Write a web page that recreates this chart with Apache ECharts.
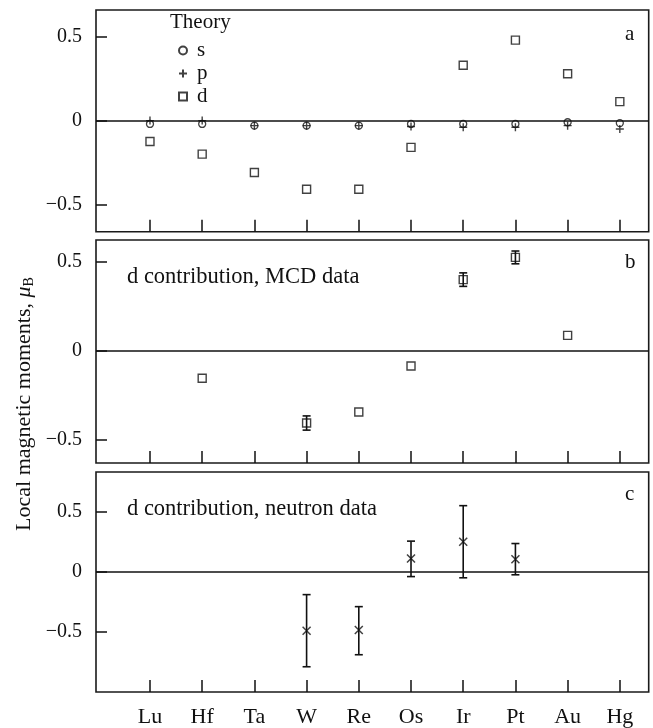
<!DOCTYPE html>
<html>
<head>
<meta charset="utf-8">
<script src="https://cdn.jsdelivr.net/npm/echarts@6/dist/echarts.min.js"></script>
<style>
html,body{margin:0;padding:0;background:#fff;}
#chart{width:653px;height:728px;}
</style>
</head>
<body>
<div id="chart"></div>
<script>
// ---- data ----
var categories = ['Lu','Hf','Ta','W','Re','Os','Ir','Pt','Au','Hg'];
// panel a: theory
var theoryS = [-0.02,-0.02,-0.03,-0.03,-0.03,-0.02,-0.02,-0.02,-0.01,-0.015];
var theoryP = [0.0,0.0,-0.03,-0.03,-0.03,-0.035,-0.04,-0.04,-0.03,-0.05];
var theoryD = [-0.125,-0.20,-0.31,-0.41,-0.41,-0.16,0.33,0.48,0.28,0.113];
// panel b: d contribution, MCD data
var mcdVal = [null,-0.153,null,-0.405,-0.343,-0.084,0.402,0.527,0.088,null];
var mcdErr = [null,0,null,0.04,0,0,0.038,0.036,0,null];
// panel c: d contribution, neutron data
var neutronVal  = [null,null,null,-0.49,-0.485,0.11,0.25,0.105,null,null];
var neutronLow  = [null,null,null,-0.79,-0.69,-0.04,-0.05,-0.025,null,null];
var neutronHigh = [null,null,null,-0.19,-0.29,0.255,0.55,0.235,null,null];
var yTicks = [-0.5,0,0.5];
var xTicks = categories.map(function(c,i){return i;});

// ---- helpers ----
function pts(arr){var o=[];arr.forEach(function(v,i){if(v!==null)o.push([i,v]);});return o;}
var FONT = "'Liberation Serif','Times New Roman',serif";
var INK = '#111';
var PLUS = 'path://M0,5L10,5M5,0L5,10';
var CROSS = 'path://M0,0L10,10M10,0L0,10';

var mcdBars = [];
mcdVal.forEach(function(v,i){ if(v!==null && mcdErr[i]>0) mcdBars.push([i, v-mcdErr[i], v+mcdErr[i]]); });
var neutronBars = [];
neutronVal.forEach(function(v,i){ if(v!==null) neutronBars.push([i, neutronLow[i], neutronHigh[i]]); });

function errRender(cap){
  return function(params, api){
    var x = api.value(0), lo = api.value(1), hi = api.value(2);
    var a = api.coord([x, hi]), b = api.coord([x, lo]);
    var st = {stroke: INK, lineWidth: 1.6};
    return {type:'group', children:[
      {type:'line', shape:{x1:a[0],y1:a[1],x2:b[0],y2:b[1]}, style:st},
      {type:'line', shape:{x1:a[0]-cap,y1:a[1],x2:a[0]+cap,y2:a[1]}, style:st},
      {type:'line', shape:{x1:b[0]-cap,y1:b[1],x2:b[0]+cap,y2:b[1]}, style:st}
    ]};
  };
}

var grids = [
  {left:96, top:10, width:552.7, height:221.7},
  {left:96, top:240, width:552.7, height:223},
  {left:96, top:472, width:552.7, height:221}
];
var yRanges = [[-0.663,0.66],[-0.63,0.625],[-1.0,0.83]];

var option = {
  animation:false,
  backgroundColor:'#fff',
  grid: grids.map(function(g){return Object.assign({show:true, borderColor:'#1a1a1a', borderWidth:1.6, backgroundColor:'transparent'}, g);}),
  xAxis: grids.map(function(g,k){
    return {
      type:'value', gridIndex:k, min:-1.034, max:9.553, position:'bottom',
      axisLine:{show:false, onZero:false},
      splitLine:{show:false},
      axisTick:{show:true, inside:true, length:12, customValues:xTicks, lineStyle:{color:INK,width:1.5}},
      axisLabel:{show:k===2, customValues:xTicks, margin:14, color:INK, fontFamily:FONT, fontSize:22,
        formatter:function(v){return categories[Math.round(v)];}}
    };
  }),
  yAxis: grids.map(function(g,k){
    return {
      type:'value', gridIndex:k, min:yRanges[k][0], max:yRanges[k][1], position:'left',
      axisLine:{show:false, onZero:false},
      splitLine:{show:false},
      axisTick:{show:true, inside:true, length:11, customValues:yTicks, lineStyle:{color:INK,width:1.5}},
      axisLabel:{show:true, customValues:yTicks, margin:14, color:INK, fontFamily:FONT, fontSize:20,
        formatter:function(v){return v<0 ? '\u2212'+Math.abs(v) : String(v);}}
    };
  }),
  legend:{
    orient:'vertical', left:173, top:35, itemWidth:8, itemHeight:8, itemGap:2,
    data:['s','p','d'],
    textStyle:{fontFamily:FONT, fontSize:21, color:INK, padding:[0,0,0,5]}
  },
  series:[
    {name:'s', type:'scatter', xAxisIndex:0, yAxisIndex:0, data:pts(theoryS), symbol:'circle', symbolSize:7,
      itemStyle:{color:'rgba(0,0,0,0)', borderColor:INK, borderWidth:1.3}, z:3},
    {name:'p', type:'scatter', xAxisIndex:0, yAxisIndex:0, data:pts(theoryP), symbol:PLUS, symbolSize:8,
      itemStyle:{color:'rgba(0,0,0,0)', borderColor:INK, borderWidth:1.4}, z:3},
    {name:'d', type:'scatter', xAxisIndex:0, yAxisIndex:0, data:pts(theoryD), symbol:'rect', symbolSize:8,
      itemStyle:{color:'rgba(0,0,0,0)', borderColor:INK, borderWidth:1.4}, z:3,
      markLine:{silent:true, symbol:['none','none'], label:{show:false}, lineStyle:{color:INK,width:1.5,type:'solid'}, data:[{yAxis:0}]}},
    {name:'mcd', type:'scatter', xAxisIndex:1, yAxisIndex:1, data:pts(mcdVal), symbol:'rect', symbolSize:8,
      itemStyle:{color:'rgba(0,0,0,0)', borderColor:INK, borderWidth:1.4}, z:3,
      markLine:{silent:true, symbol:['none','none'], label:{show:false}, lineStyle:{color:INK,width:1.5,type:'solid'}, data:[{yAxis:0}]}},
    {name:'mcdErr', type:'custom', xAxisIndex:1, yAxisIndex:1, data:mcdBars, renderItem:errRender(4), z:4},
    {name:'neutron', type:'scatter', xAxisIndex:2, yAxisIndex:2, data:pts(neutronVal), symbol:CROSS, symbolSize:8,
      itemStyle:{color:'rgba(0,0,0,0)', borderColor:INK, borderWidth:1.5}, z:3,
      markLine:{silent:true, symbol:['none','none'], label:{show:false}, lineStyle:{color:INK,width:1.5,type:'solid'}, data:[{yAxis:0}]}},
    {name:'neutronErr', type:'custom', xAxisIndex:2, yAxisIndex:2, data:neutronBars, renderItem:errRender(4), z:4}
  ],
  graphic:[
    {type:'text', left:170, top:12, style:{text:'Theory', font:'21px '+FONT, fill:INK}},
    {type:'text', left:625, top:24, style:{text:'a', font:'21px '+FONT, fill:INK}},
    {type:'text', left:625, top:252, style:{text:'b', font:'21px '+FONT, fill:INK}},
    {type:'text', left:625, top:484, style:{text:'c', font:'21px '+FONT, fill:INK}},
    {type:'text', left:127, top:266, style:{text:'d contribution, MCD data', font:'22.5px '+FONT, fill:INK}},
    {type:'text', left:127, top:498, style:{text:'d contribution, neutron data', font:'22.5px '+FONT, fill:INK}},
    {type:'text', x:24, y:404, rotation:Math.PI/2,
      style:{text:'{n|Local magnetic moments, }{mu|\u03bc}{sub|B}', align:'center', verticalAlign:'middle', fill:INK,
        rich:{
          n:{fontFamily:FONT, fontSize:22, fill:INK},
          mu:{fontFamily:FONT, fontSize:22, fontStyle:'italic', fill:INK},
          sub:{fontFamily:FONT, fontSize:14, fill:INK, padding:[10,0,0,0]}
        }}}
  ]
};
var chart = echarts.init(document.getElementById('chart'), null, {renderer:'canvas'});
chart.setOption(option);
</script>
</body>
</html>
